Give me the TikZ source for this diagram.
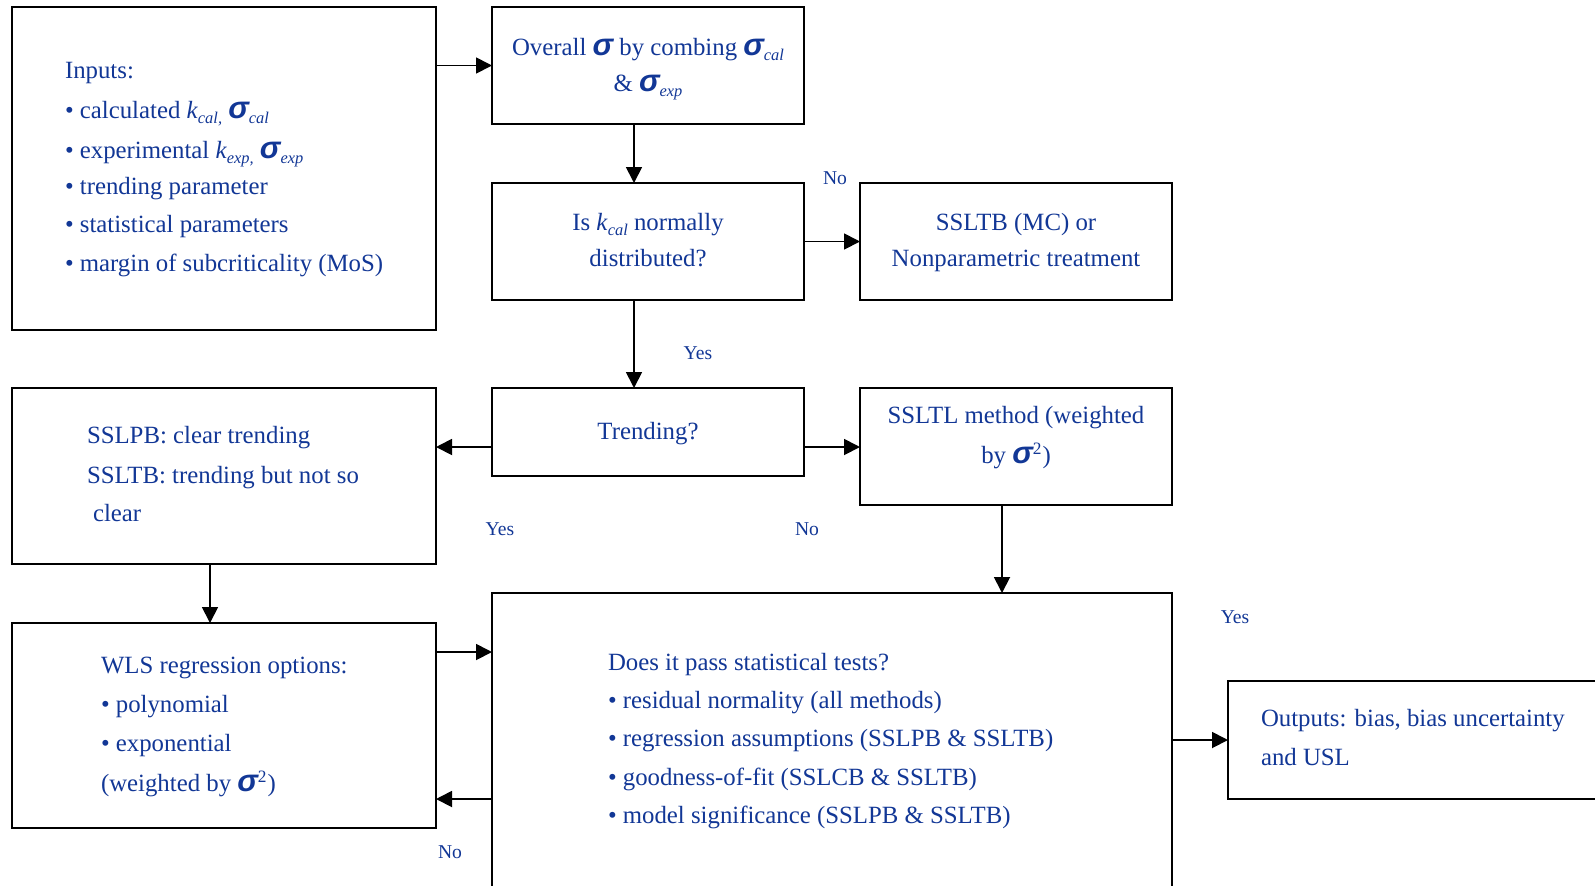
\documentclass[tikz,border=0pt]{standalone}
\usepackage{fontspec}
\setmainfont{Liberation Serif}
\newfontfamily\sigfont{Liberation Sans}
\usetikzlibrary{arrows.meta}
\definecolor{txtblue}{RGB}{18,55,150}
\newcommand\mysig{{\sigfont\bfseries\itshape\fontsize{15.5}{15.5}\selectfont σ}}
\newcommand\mysub[1]{\raisebox{-2.6pt}{\fontsize{8.2}{8.2}\selectfont\itshape #1}}
\newcommand\mylines[2]{\begin{tabular}[t]{@{}#1@{}}#2\end{tabular}}
\newcommand\mkbox[5]{\node[boxst, anchor=north west, minimum width={(#4-#2)*0.5pt}, minimum height={(#5-#3)*0.5pt}] (#1) at (#2,#3) {};}
\begin{document}
\begin{tikzpicture}[x=0.5pt,y=-0.5pt,
  boxst/.style={draw=black, line width=0.9pt, inner sep=0pt, outer sep=0pt},
  txt/.style={inner sep=0pt, outer sep=0pt, text=txtblue, font=\fontsize{12.4}{19.3}\selectfont},
  lbl/.style={inner sep=0pt, outer sep=0pt, text=txtblue, font=\fontsize{9.8}{11}\selectfont},
  arr/.style={line width=0.9pt, -{Triangle[length=8pt,width=8pt]}}]
\useasboundingbox (0,0) rectangle (1595,885);
\clip (0,0) rectangle (1595,885);
\fill[white] (0,0) rectangle (1595,885);
% boxes
\mkbox{inputs}{12}{7}{436}{330}
\mkbox{overall}{492}{7}{804}{124}
\mkbox{isk}{492}{183}{804}{300}
\mkbox{ssltbmc}{860}{183}{1172}{300}
\mkbox{trend}{492}{388}{804}{476}
\mkbox{sslpb}{12}{388}{436}{564}
\mkbox{ssltl}{860}{388}{1172}{505}
\mkbox{does}{492}{593}{1172}{960}
\mkbox{wls}{12}{623}{436}{828}
\mkbox{outputs}{1228}{681}{1660}{799}
% texts
\node[txt, anchor=base west] (inputsT) at (65,78) {\mylines{l}{%
Inputs:\\[0.7pt]
• calculated \textit{k}\mysub{cal,} \mysig\mysub{cal}\\[0.7pt]
• experimental \textit{k}\mysub{exp,} \mysig\mysub{exp}\\[-1.3pt]
• trending parameter\\[-0.3pt]
• statistical parameters\\[0.2pt]
• margin of subcriticality (MoS)}};
\node[txt, anchor=base] (overallT) at (648,55) {\mylines{c}{%
Overall \mysig{} by combing \mysig\mysub{cal}\\[-1.3pt]
\& \mysig\mysub{exp}}};
\node[txt, anchor=base] (iskT) at (648,230) {\mylines{c}{%
Is \textit{k}\mysub{cal} normally\\[-1.3pt]
distributed?}};
\node[txt, anchor=base] (ssltbmcT) at (1016,230) {\mylines{c}{%
SSLTB (MC) or\\[-1.3pt]
Nonparametric treatment}};
\node[txt, anchor=base] (trendT) at (648,439) {Trending?};
\node[txt, anchor=base] (ssltlT) at (1016,423) {\mylines{c}{%
SSLTL method (weighted\\[0.7pt]
by \mysig\textsuperscript{2})}};
\node[txt, anchor=base west] (sslpbT) at (87,443) {\mylines{l}{%
SSLPB: clear trending\\[0.7pt]
SSLTB: trending but not so\\[-0.3pt]
\hspace{3pt}clear}};
\node[txt, anchor=base west] (wlsT) at (101,673) {\mylines{l}{%
WLS regression options:\\[0.2pt]
• polynomial\\[0.2pt]
• exponential\\[0.7pt]
(weighted by \mysig\textsuperscript{2})}};
\node[txt, anchor=base west] (doesT) at (608,670) {\mylines{l}{%
Does it pass statistical tests?\\[-0.3pt]
• residual normality (all methods)\\[-0.3pt]
• regression assumptions (SSLPB \& SSLTB)\\[0.2pt]
• goodness-of-fit (SSLCB \& SSLTB)\\[-0.3pt]
• model significance (SSLPB \& SSLTB)}};
\node[txt, anchor=base west] (outputsT) at (1261,726) {\mylines{l}{%
Outputs: bias, bias uncertainty\\[0.2pt]
and USL}};
% labels
\node[lbl] (lNo1) at (835,178) {No};
\node[lbl] (lYes1) at (698,353) {Yes};
\node[lbl] (lYes2) at (500,529) {Yes};
\node[lbl] (lNo2) at (807,529) {No};
\node[lbl] (lYes3) at (1235,617) {Yes};
\node[lbl] (lNo3) at (450,852) {No};
% connectors
\coordinate (cT) at ([yshift=-7.5pt]trend.west);
\coordinate (cT2) at ([yshift=-7.5pt]trend.east);
\coordinate (cW1) at ([yshift=-14.5pt]wls.north east);
\coordinate (cW2) at ([yshift=14.5pt]wls.south east);
\coordinate (cO) at ([xshift=-7pt]overall.south);
\coordinate (cI) at ([xshift=-7pt]isk.south);
\coordinate (cS) at ([xshift=-7pt]ssltl.south);
\coordinate (cP) at ([xshift=-7pt]sslpb.south);
\draw[arr] (overall.west -| inputs.east) -- (overall.west);
\draw[arr] (cO) -- (cO |- isk.north);
\draw[arr] (isk.east) -- (ssltbmc.west);
\draw[arr] (cI) -- (cI |- trend.north);
\draw[arr] (cT) -- (cT -| sslpb.east);
\draw[arr] (cT2) -- (cT2 -| ssltl.west);
\draw[arr] (cS) -- (cS |- does.north);
\draw[arr] (cP) -- (cP |- wls.north);
\draw[arr] (cW1) -- (cW1 -| does.west);
\draw[arr] (cW2 -| does.west) -- (cW2);
\draw[arr] (outputs.west -| does.east) -- (outputs.west);
\end{tikzpicture}
\end{document}
